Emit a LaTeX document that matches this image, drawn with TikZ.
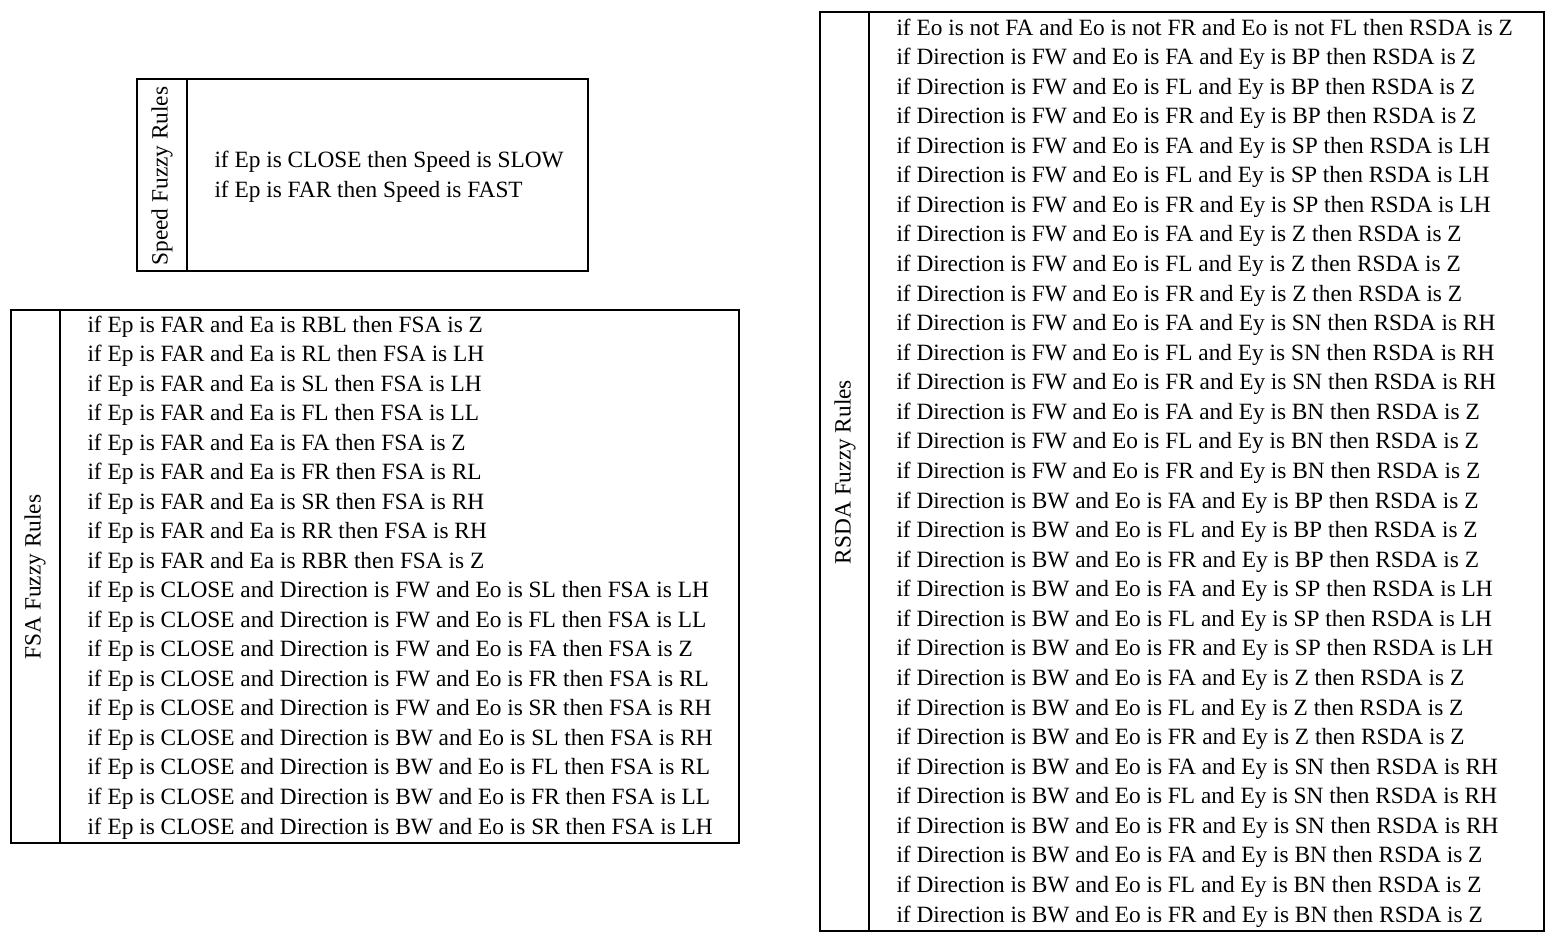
\documentclass[tikz,border=0pt]{standalone}
\usepackage{fontspec}
\setmainfont{Liberation Serif}
\newcommand{\rulesfont}{\fontsize{9.33}{11}\selectfont}
\tikzset{
  rulebox/.style={line width=0.6pt},
  ruleline/.style={anchor=base west, inner sep=0pt, font=\rulesfont},
  ruletitle/.style={rotate=90, inner sep=0pt, font=\rulesfont}
}
\begin{document}
\begin{tikzpicture}[x=0.4pt,y=-0.4pt]
\useasboundingbox (0,0) rectangle (1560,942);
% speed rules
\draw [rulebox] (137,79) rectangle (588,271);
\draw [rulebox] (187,79) -- (187,271);
\node [ruletitle] (speedtitle) at (162,176) {Speed Fuzzy Rules};
\foreach \r [count=\i from 0] in {
  if Ep is CLOSE then Speed is SLOW,
  if Ep is FAR then Speed is FAST}
  \node [ruleline] (speed\i) at (214,{167+30*\i}) {\r};
% fsa rules
\draw [rulebox] (11,310) rectangle (739,843);
\draw [rulebox] (60,310) -- (60,843);
\node [ruletitle] (fsatitle) at (35,577) {FSA Fuzzy Rules};
\foreach \r [count=\i from 0] in {
  if Ep is FAR and Ea is RBL then FSA is Z,
  if Ep is FAR and Ea is RL then FSA is LH,
  if Ep is FAR and Ea is SL then FSA is LH,
  if Ep is FAR and Ea is FL then FSA is LL,
  if Ep is FAR and Ea is FA then FSA is Z,
  if Ep is FAR and Ea is FR then FSA is RL,
  if Ep is FAR and Ea is SR then FSA is RH,
  if Ep is FAR and Ea is RR then FSA is RH,
  if Ep is FAR and Ea is RBR then FSA is Z,
  if Ep is CLOSE and Direction is FW and Eo is SL then FSA is LH,
  if Ep is CLOSE and Direction is FW and Eo is FL then FSA is LL,
  if Ep is CLOSE and Direction is FW and Eo is FA then FSA is Z,
  if Ep is CLOSE and Direction is FW and Eo is FR then FSA is RL,
  if Ep is CLOSE and Direction is FW and Eo is SR then FSA is RH,
  if Ep is CLOSE and Direction is BW and Eo is SL then FSA is RH,
  if Ep is CLOSE and Direction is BW and Eo is FL then FSA is RL,
  if Ep is CLOSE and Direction is BW and Eo is FR then FSA is LL,
  if Ep is CLOSE and Direction is BW and Eo is SR then FSA is LH}
  \node [ruleline] (fsa\i) at (87,{332+29.53*\i}) {\r};
% rsda rules
\draw [rulebox] (820,12) rectangle (1544,931);
\draw [rulebox] (869,12) -- (869,931);
\node [ruletitle] (rsdatitle) at (845,472) {RSDA Fuzzy Rules};
\foreach \r [count=\i from 0] in {
  if Eo is not FA and Eo is not FR and Eo is not FL then RSDA is Z,
  if Direction is FW and Eo is FA and Ey is BP then RSDA is Z,
  if Direction is FW and Eo is FL and Ey is BP then RSDA is Z,
  if Direction is FW and Eo is FR and Ey is BP then RSDA is Z,
  if Direction is FW and Eo is FA and Ey is SP then RSDA is LH,
  if Direction is FW and Eo is FL and Ey is SP then RSDA is LH,
  if Direction is FW and Eo is FR and Ey is SP then RSDA is LH,
  if Direction is FW and Eo is FA and Ey is Z then RSDA is Z,
  if Direction is FW and Eo is FL and Ey is Z then RSDA is Z,
  if Direction is FW and Eo is FR and Ey is Z then RSDA is Z,
  if Direction is FW and Eo is FA and Ey is SN then RSDA is RH,
  if Direction is FW and Eo is FL and Ey is SN then RSDA is RH,
  if Direction is FW and Eo is FR and Ey is SN then RSDA is RH,
  if Direction is FW and Eo is FA and Ey is BN then RSDA is Z,
  if Direction is FW and Eo is FL and Ey is BN then RSDA is Z,
  if Direction is FW and Eo is FR and Ey is BN then RSDA is Z,
  if Direction is BW and Eo is FA and Ey is BP then RSDA is Z,
  if Direction is BW and Eo is FL and Ey is BP then RSDA is Z,
  if Direction is BW and Eo is FR and Ey is BP then RSDA is Z,
  if Direction is BW and Eo is FA and Ey is SP then RSDA is LH,
  if Direction is BW and Eo is FL and Ey is SP then RSDA is LH,
  if Direction is BW and Eo is FR and Ey is SP then RSDA is LH,
  if Direction is BW and Eo is FA and Ey is Z then RSDA is Z,
  if Direction is BW and Eo is FL and Ey is Z then RSDA is Z,
  if Direction is BW and Eo is FR and Ey is Z then RSDA is Z,
  if Direction is BW and Eo is FA and Ey is SN then RSDA is RH,
  if Direction is BW and Eo is FL and Ey is SN then RSDA is RH,
  if Direction is BW and Eo is FR and Ey is SN then RSDA is RH,
  if Direction is BW and Eo is FA and Ey is BN then RSDA is Z,
  if Direction is BW and Eo is FL and Ey is BN then RSDA is Z,
  if Direction is BW and Eo is FR and Ey is BN then RSDA is Z}
  \node [ruleline] (rsda\i) at (896,{35+29.57*\i}) {\r};
\end{tikzpicture}
\end{document}
